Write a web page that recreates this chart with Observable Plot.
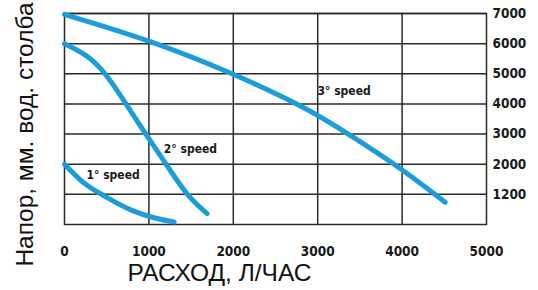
<!DOCTYPE html>
<html>
<head>
<meta charset="utf-8">
<script src="https://cdn.jsdelivr.net/npm/d3@7"></script>
<script src="https://cdn.jsdelivr.net/npm/@observablehq/plot@0.6"></script>
<style>
  html, body { margin: 0; padding: 0; background: #fff; }
</style>
</head>
<body>
<div id="chart"></div>
<script>
const xTicks = [0, 1000, 2000, 3000, 4000, 5000];
const yTicks = [1000, 2000, 3000, 4000, 5000, 6000, 7000];
const yTickLabels = ["1200", "2000", "3000", "4000", "5000", "6000", "7000"];

const speed1X = [0, 200, 500, 800, 1050, 1300];
const speed1Y = [2000, 1450, 900, 470, 232, 80];
const speed2X = [0, 290, 490, 680, 880, 1040, 1280, 1470, 1690];
const speed2Y = [6000, 5600, 5000, 4220, 3340, 2680, 1680, 900, 360];
const speed3X = [0, 1030, 1970, 2920, 3390, 3940, 4510];
const speed3Y = [6970, 6100, 5050, 3800, 2950, 1960, 740];

const seriesNames = ["1° speed", "2° speed", "3° speed"];
const labelX = [261, 1177, 2998];
const labelY = [1626, 2512, 4423];

const xTitle = "РАСХОД, Л/ЧАС";
const yTitle = "Напор, мм. вод. столба";

const toRows = (name, xs, ys) => xs.map((x, i) => ({series: name, x, y: ys[i]}));
const labelData = seriesNames.map((s, i) => ({s, x: labelX[i], y: labelY[i]}));

const tickFont = '"DejaVu Sans Condensed", "Liberation Sans", sans-serif';
const titleFont = '"Liberation Sans", Arial, sans-serif';
const lineStyle = {x: "x", y: "y", stroke: "#1c9dd8", strokeWidth: 5, strokeLinecap: "round", strokeLinejoin: "round"};

const chart = Plot.plot({
  width: 538,
  height: 290,
  marginLeft: 64,
  marginRight: 52,
  marginTop: 13,
  marginBottom: 66,
  style: {background: "#fff", color: "#1a1a1a", overflow: "visible"},
  x: {domain: [0, 5000]},
  y: {domain: [0, 7000]},
  marks: [
    Plot.ruleX(xTicks.slice(1, -1), {stroke: "#2a2a2a", strokeWidth: 1.5}),
    Plot.ruleY(yTicks, {stroke: "#2a2a2a", strokeWidth: 1.5}),
    Plot.frame({stroke: "#2a2a2a", strokeWidth: 1.5}),
    Plot.line(toRows(seriesNames[0], speed1X, speed1Y), {...lineStyle, curve: "monotone-x"}),
    Plot.line(toRows(seriesNames[1], speed2X, speed2Y), {...lineStyle, curve: "basis"}),
    Plot.line(toRows(seriesNames[2], speed3X, speed3Y), {...lineStyle, curve: "basis"}),
    Plot.text(labelData, {x: "x", y: "y", text: "s", textAnchor: "start", fontSize: 12, fontWeight: "bold", fontFamily: tickFont, fill: "#1a1a1a"}),
    Plot.axisX({ticks: xTicks, tickSize: 0, tickPadding: 22, label: null, fontSize: 13.5, fontWeight: "bold", fontFamily: tickFont, tickFormat: d => String(d)}),
    Plot.axisY({anchor: "right", ticks: yTicks, tickSize: 0, tickPadding: 6, label: null, fontSize: 13.5, fontWeight: "bold", fontFamily: tickFont, tickFormat: d => yTickLabels[yTicks.indexOf(d)]}),
    Plot.text([xTitle], {frameAnchor: "bottom", dx: -56, dy: 49, lineAnchor: "middle", fontSize: 24.5, fontFamily: titleFont, fill: "#111"}),
    Plot.text([yTitle], {frameAnchor: "left", rotate: -90, dx: -39, dy: 15.5, lineAnchor: "middle", textAnchor: "middle", fontSize: 24.5, fontFamily: titleFont, fill: "#111"})
  ]
});
document.getElementById("chart").appendChild(chart);
</script>
</body>
</html>
